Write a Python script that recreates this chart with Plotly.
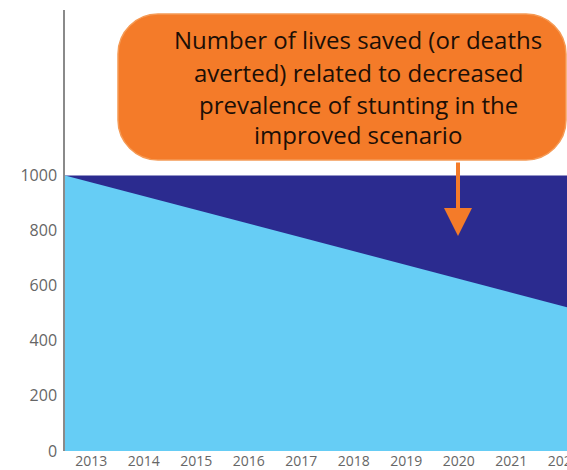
import plotly.graph_objects as go

# Year boundaries for the area series (the last one closes the final year)
years = [2013, 2014, 2015, 2016, 2017, 2018, 2019, 2020, 2021, 2022, 2023]
# Deaths under the baseline scenario (constant)
baseline_deaths = [1000, 1000, 1000, 1000, 1000, 1000, 1000, 1000, 1000, 1000, 1000]
# Deaths under the improved scenario
improved_deaths = [1000, 950, 900, 850, 800, 750, 700, 650, 600, 550, 500]

# Category labels, centred in each year
tick_years = [2013, 2014, 2015, 2016, 2017, 2018, 2019, 2020, 2021, 2022]
y_ticks = [0, 200, 400, 600, 800, 1000]

callout_lines = [
    "Number of lives saved (or deaths",
    "averted) related to decreased",
    "prevalence of stunting in the",
    "improved scenario",
]

DARK = "#2b2b8f"
LIGHT = "#66cdf5"
ORANGE = "#f47b29"
TEXT_FONT = "Open Sans"
TICK_FONT = "Open Sans"

W, H = 567, 470
L, R, T, B = 65, 0, 10, 19
PW, PH = W - L - R, H - T - B


def px(xp):
    return (xp - L) / PW


def py(yp):
    return (H - B - yp) / PH


fig = go.Figure()
fig.add_trace(go.Scatter(
    x=years, y=baseline_deaths, mode="lines", fill="tozeroy",
    line=dict(width=0, color=DARK), fillcolor=DARK, hoverinfo="skip",
    showlegend=False,
))
fig.add_trace(go.Scatter(
    x=years, y=improved_deaths, mode="lines", fill="tozeroy",
    line=dict(width=0, color=LIGHT), fillcolor=LIGHT, hoverinfo="skip",
    showlegend=False,
))

# Rounded callout box
x0, x1, y0, y1, r = 118, 566, 14, 160, 40
rx, ry = r / PW, r / PH
X0, X1, Y0, Y1 = px(x0), px(x1), py(y1), py(y0)
k = 0.45
path = (
    f"M {X0+rx},{Y1} L {X1-rx},{Y1} "
    f"C {X1-rx*k},{Y1} {X1},{Y1-ry*k} {X1},{Y1-ry} "
    f"L {X1},{Y0+ry} "
    f"C {X1},{Y0+ry*k} {X1-rx*k},{Y0} {X1-rx},{Y0} "
    f"L {X0+rx},{Y0} "
    f"C {X0+rx*k},{Y0} {X0},{Y0+ry*k} {X0},{Y0+ry} "
    f"L {X0},{Y1-ry} "
    f"C {X0},{Y1-ry*k} {X0+rx*k},{Y1} {X0+rx},{Y1} Z"
)
fig.add_shape(type="path", path=path, xref="paper", yref="paper",
              fillcolor=ORANGE, line=dict(color="#f59a55", width=1.5))

line_y = [40, 72, 104, 135]
for txt, ly in zip(callout_lines, line_y):
    fig.add_annotation(
        x=px(358), y=py(ly), xref="paper", yref="paper", text=txt,
        showarrow=False, xanchor="center", yanchor="middle",
        font=dict(family=TEXT_FONT, size=24, color="#1c0f06"),
    )

# Arrow pointing into the dark region
fig.add_annotation(
    x=px(458), y=py(236), xref="paper", yref="paper", text="",
    showarrow=True, ax=0, ay=-(236 - 161), axref="pixel", ayref="pixel",
    arrowhead=2, arrowsize=1.4, arrowwidth=4, arrowcolor=ORANGE,
)

fig.update_layout(
    width=W, height=H,
    margin=dict(l=L, r=R, t=T, b=B),
    paper_bgcolor="white", plot_bgcolor="white",
    font=dict(family=TICK_FONT, size=15, color="#666666"),
    xaxis=dict(
        range=[2013, 2013 + PW / 52.5], tickmode="array",
        tickvals=[y + 0.5 for y in tick_years],
        ticktext=[str(y) for y in tick_years],
        showgrid=False, zeroline=False, showline=False, ticks="",
        ticklabeloverflow="allow", automargin=False,
        tickfont=dict(size=14),
    ),
    yaxis=dict(
        range=[0, 1600], tickmode="array", tickvals=y_ticks,
        showgrid=False, zeroline=False, showline=True,
        linecolor="#8a8a8a", linewidth=1.5, ticks="",
        ticklabelstandoff=3, automargin=False,
        tickfont=dict(size=16),
    ),
)

fig.write_html("out.html")
